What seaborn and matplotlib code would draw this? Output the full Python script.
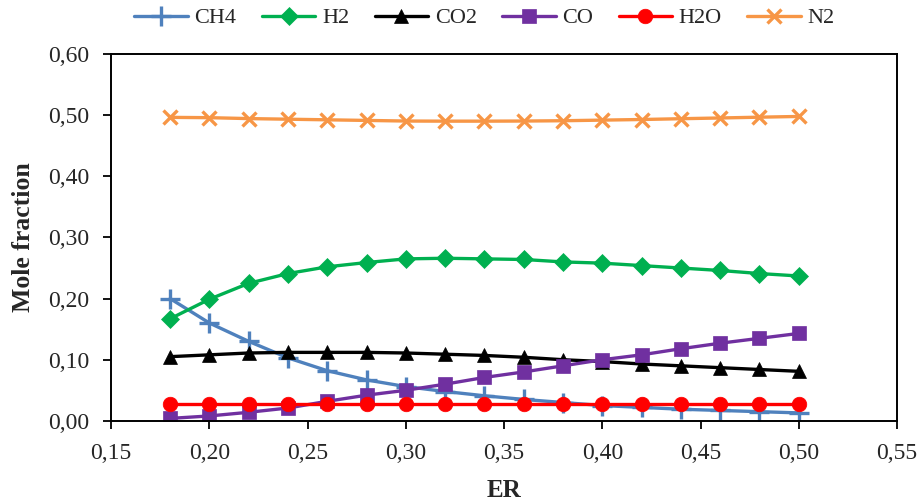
import matplotlib
matplotlib.use("Agg")
import matplotlib.pyplot as plt
import matplotlib.ticker as mticker
import seaborn as sns
import pandas as pd

er = [0.18, 0.20, 0.22, 0.24, 0.26, 0.28, 0.30, 0.32, 0.34, 0.36, 0.38, 0.40, 0.42, 0.44, 0.46, 0.48, 0.50]
ch4 = [0.200, 0.160, 0.130, 0.103, 0.082, 0.067, 0.056, 0.048, 0.041, 0.035, 0.030, 0.025, 0.022, 0.019, 0.017, 0.015, 0.013]
h2 = [0.167, 0.199, 0.225, 0.241, 0.252, 0.259, 0.265, 0.266, 0.265, 0.264, 0.260, 0.258, 0.254, 0.250, 0.246, 0.241, 0.237]
co2 = [0.105, 0.108, 0.111, 0.112, 0.112, 0.112, 0.111, 0.109, 0.107, 0.104, 0.100, 0.097, 0.093, 0.090, 0.087, 0.084, 0.081]
co = [0.004, 0.008, 0.014, 0.021, 0.032, 0.042, 0.050, 0.060, 0.071, 0.080, 0.090, 0.100, 0.108, 0.118, 0.127, 0.135, 0.143]
h2o = [0.027] * 17
n2 = [0.4965, 0.4960, 0.4945, 0.4935, 0.4925, 0.4915, 0.4905, 0.4903, 0.4903, 0.4905, 0.4910, 0.4920, 0.4930, 0.4943, 0.4955, 0.4968, 0.4980]

series_names = ["CH4", "H2", "CO2", "CO", "H2O", "N2"]
series_values = [ch4, h2, co2, co, h2o, n2]
colors = ["#4F81BD", "#00B050", "#000000", "#7030A0", "#FF0000", "#F79646"]
markers = ["+", "D", "^", "s", "o", "x"]
msizes = [14, 9.5, 10.5, 10, 10.5, 10.5]
x_ticks = [0.15, 0.20, 0.25, 0.30, 0.35, 0.40, 0.45, 0.50, 0.55]
y_ticks = [0.0, 0.1, 0.2, 0.3, 0.4, 0.5, 0.6]

sns.set_style("white")
plt.rcParams["font.family"] = ["Liberation Serif", "DejaVu Serif"]

fig = plt.figure(figsize=(9.19, 5.01), dpi=100)
ax = fig.add_axes([0.121, 0.160, 0.855, 0.732])

for name, vals, c, m, ms in zip(series_names, series_values, colors, markers, msizes):
    df = pd.DataFrame({"ER": er, "y": vals})
    sns.lineplot(data=df, x="ER", y="y", ax=ax, color=c, marker=m, markersize=ms,
                 linewidth=2.4, markeredgewidth=2.4 if m in "+x" else 0.5,
                 markeredgecolor=c, label=name)

ax.set_xlim(0.15, 0.55)
ax.set_ylim(0.0, 0.6)
ax.set_xticks(x_ticks)
ax.set_yticks(y_ticks)
ax.xaxis.set_major_formatter(mticker.FuncFormatter(lambda v, p: f"{v:.2f}".replace(".", ",")))
ax.yaxis.set_major_formatter(mticker.FuncFormatter(lambda v, p: f"{v:.2f}".replace(".", ",")))
ax.tick_params(axis="both", direction="out", length=6, width=1.3, labelsize=17, color="black",
               left=True, bottom=True, pad=10)
for s in ax.spines.values():
    s.set_color("black")
    s.set_linewidth(1.4)
ax.set_xlabel("ER", fontsize=18, fontweight="bold")
ax.set_ylabel("Mole fraction", fontsize=18.5, fontweight="bold")
ax.xaxis.set_label_coords(0.5, -0.158)
ax.yaxis.set_label_coords(-0.097, 0.5)

ax.legend(loc="center", bbox_to_anchor=(0.475, 1.098), ncol=6, frameon=False,
          fontsize=16, handlelength=2.4, columnspacing=1.15, handletextpad=0.3)

fig.savefig("out.png", dpi=100)
